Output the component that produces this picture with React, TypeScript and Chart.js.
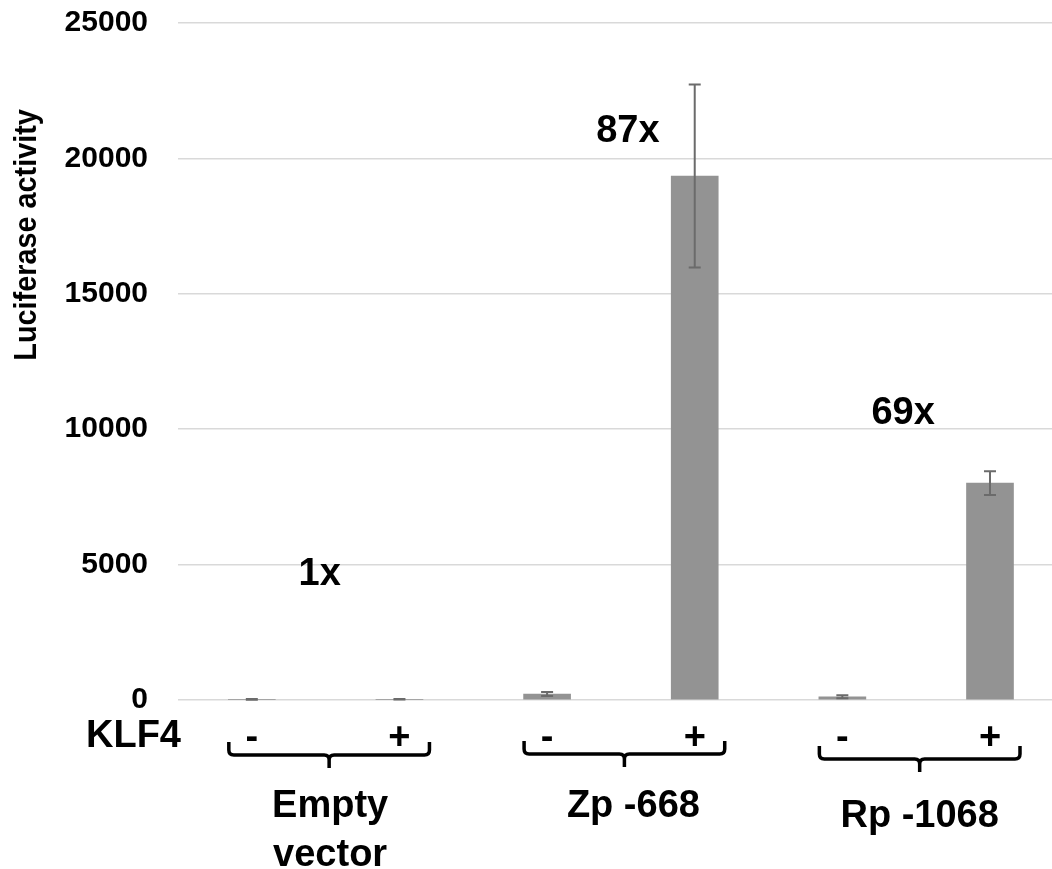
import React, { useEffect, useRef } from 'react';
import { Chart, registerables } from 'chart.js';

Chart.register(...registerables);

// ---- data ----
const groupLabels: string[][] = [['Empty', 'vector'], ['Zp -668'], ['Rp -1068']];
const klf4Labels = ['-', '+', '-', '+', '-', '+'];
const luciferase = [25, 25, 222, 19350, 116, 8010];
const luciferaseErr = [12, 10, 70, 3380, 55, 440];
const foldLabels = ['1x', '87x', '69x'];
const foldLabelValues = [4250, 20600, 10190];
const yTickValues = [0, 5000, 10000, 15000, 20000, 25000];
const yTitle = 'Luciferase activity';
const rowTitle = 'KLF4';

// ---- style ----
const FONT = "'Liberation Sans', Arial, Helvetica, sans-serif";
const BAR_COLOR = '#939393';
const ERR_COLOR = '#6b6b6b';
const GRID_COLOR = '#d9d9d9';
const FOLD_DX = [-6, 7, -13];
const LABEL_DX = [1, 9, 0];
const BRACE_DY = [0, -1, 4];

const overlayPlugin = {
  id: 'overlay',
  afterDatasetsDraw(chart: any) {
    const ctx = chart.ctx;
    const y = chart.scales.y;
    const meta = chart.getDatasetMeta(0);
    ctx.save();
    ctx.strokeStyle = ERR_COLOR;
    ctx.lineWidth = 2;
    meta.data.forEach((bar: any, i: number) => {
      const x = bar.x;
      const top = y.getPixelForValue(luciferase[i] + luciferaseErr[i]);
      const bot = y.getPixelForValue(Math.max(0, luciferase[i] - luciferaseErr[i]));
      ctx.beginPath();
      ctx.moveTo(x, top);
      ctx.lineTo(x, bot);
      ctx.moveTo(x - 6, top);
      ctx.lineTo(x + 6, top);
      ctx.moveTo(x - 6, bot);
      ctx.lineTo(x + 6, bot);
      ctx.stroke();
    });
    ctx.restore();
  },
  afterDraw(chart: any) {
    const ctx = chart.ctx;
    const xs = chart.scales.x;
    const ys = chart.scales.y;
    const area = chart.chartArea;
    ctx.save();
    ctx.fillStyle = '#000';

    // y title
    ctx.save();
    ctx.font = `bold 31px ${FONT}`;
    ctx.translate(36, area.top + (area.bottom - area.top) * 0.313);
    ctx.rotate(-Math.PI / 2);
    ctx.scale(0.93, 1);
    ctx.textAlign = 'center';
    ctx.textBaseline = 'alphabetic';
    ctx.fillText(yTitle, 0, 0);
    ctx.restore();

    // fold labels
    ctx.font = `bold 38px ${FONT}`;
    ctx.textAlign = 'center';
    ctx.textBaseline = 'alphabetic';
    foldLabels.forEach((t, g) => {
      const cx = xs.getPixelForValue(2 * g + 0.5) + FOLD_DX[g];
      ctx.fillText(t, cx, ys.getPixelForValue(foldLabelValues[g]));
    });

    // KLF4 row title
    ctx.textAlign = 'left';
    ctx.fillText(rowTitle, 86, area.bottom + 47);

    // braces + group labels
    ctx.strokeStyle = '#000';
    ctx.lineWidth = 3.5;
    ctx.lineJoin = 'round';
    groupLabels.forEach((lines, g) => {
      const left = xs.getPixelForValue(2 * g) - 23;
      const right = xs.getPixelForValue(2 * g + 1) + 30;
      const mid = (left + right) / 2;
      const dy = BRACE_DY[g];
      const top = area.bottom + 42 + dy;
      const h = area.bottom + 55 + dy;
      const bot = area.bottom + 68 + dy;
      const r = 5;
      ctx.beginPath();
      ctx.moveTo(left, top);
      ctx.lineTo(left, h - r);
      ctx.quadraticCurveTo(left, h, left + r, h);
      ctx.lineTo(mid - r, h);
      ctx.quadraticCurveTo(mid, h, mid, h + r);
      ctx.lineTo(mid, bot);
      ctx.moveTo(mid, h + r);
      ctx.quadraticCurveTo(mid, h, mid + r, h);
      ctx.lineTo(right - r, h);
      ctx.quadraticCurveTo(right, h, right, h - r);
      ctx.lineTo(right, top);
      ctx.stroke();

      ctx.textAlign = 'center';
      const base = area.bottom + 117 + (g === 2 ? 10 : 0);
      lines.forEach((ln, k) => {
        ctx.fillText(ln, mid + LABEL_DX[g], base + k * 49);
      });
    });
    ctx.restore();
  },
};

export default function App() {
  const ref = useRef<HTMLCanvasElement | null>(null);
  useEffect(() => {
    if (!ref.current) return;
    const chart = new Chart(ref.current, {
      type: 'bar',
      data: {
        datasets: [
          {
            data: luciferase.map((v, i) => ({ x: i, y: v })),
            backgroundColor: BAR_COLOR,
            borderWidth: 0,
            barThickness: 47,
          } as any,
        ],
      },
      options: {
        animation: false,
        responsive: true,
        maintainAspectRatio: false,
        layout: { padding: { top: 23, left: 0, right: 0, bottom: 0 } },
        plugins: { legend: { display: false }, tooltip: { enabled: false } },
        scales: {
          x: {
            type: 'linear',
            offset: false,
            min: -0.5,
            max: 5.42,
            grid: { display: false },
            border: { display: false },
            afterBuildTicks: (s: any) => {
              s.ticks = klf4Labels.map((_, i) => ({ value: i }));
            },
            afterFit: (s: any) => {
              s.height = 169;
              s.paddingLeft = 0;
              s.paddingRight = 0;
            },
            ticks: {
              autoSkip: false,
              maxRotation: 0,
              padding: 8,
              color: '#000',
              font: { family: FONT, size: 38, weight: 'bold' },
              callback: (v: any) => klf4Labels[Math.round(Number(v))] ?? '',
            },
          },
          y: {
            min: 0,
            max: 25000,
            afterBuildTicks: (s: any) => {
              s.ticks = yTickValues.map((v) => ({ value: v }));
            },
            afterFit: (s: any) => {
              s.width = 178;
              s.paddingTop = 0;
              s.paddingBottom = 0;
            },
            grid: { color: GRID_COLOR, lineWidth: 1.5, drawTicks: false },
            border: { display: false },
            ticks: {
              padding: 30,
              color: '#000',
              font: { family: FONT, size: 30, weight: 'bold' },
              callback: (v: any) => String(v),
            },
          },
        },
      } as any,
      plugins: [overlayPlugin],
    });
    return () => chart.destroy();
  }, []);
  return (
    <div style={{ position: 'fixed', left: 0, top: 0, width: 1052, height: 869, background: '#fff' }}>
      <canvas ref={ref} style={{ display: 'block' }} />
    </div>
  );
}
